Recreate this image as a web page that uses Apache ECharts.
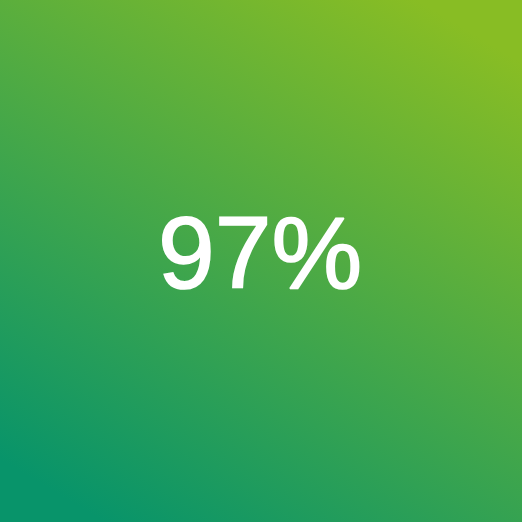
<!DOCTYPE html>
<html>
<head>
<meta charset="utf-8">
<script src="https://cdn.jsdelivr.net/npm/echarts@6/dist/echarts.min.js"></script>
<style>
  html, body { margin: 0; padding: 0; }
  #main { width: 522px; height: 522px; }
</style>
</head>
<body>
<div id="main"></div>
<script>
// single KPI tile
const values = [97];
const units = ['%'];
const gradientColors = ['#88bd24', '#08946a'];

var chart = echarts.init(document.getElementById('main'));

var option = {
  animation: false,
  graphic: [
    {
      type: 'rect',
      shape: { x: 0, y: 0, width: 522, height: 522 },
      style: {
        fill: new echarts.graphic.LinearGradient(0.8, 0, 0.2, 1, [
          { offset: 0, color: gradientColors[0] },
          { offset: 1, color: gradientColors[1] }
        ])
      },
      silent: true
    },
    {
      type: 'text',
      x: 260,
      y: 260,
      style: {
        text: values[0] + units[0],
        fill: '#ffffff',
        stroke: '#ffffff',
        lineWidth: 1.6,
        font: 'normal 102px "Liberation Sans", Arial, sans-serif',
        align: 'center',
        verticalAlign: 'middle'
      }
    }
  ]
};

chart.setOption(option);
</script>
</body>
</html>
